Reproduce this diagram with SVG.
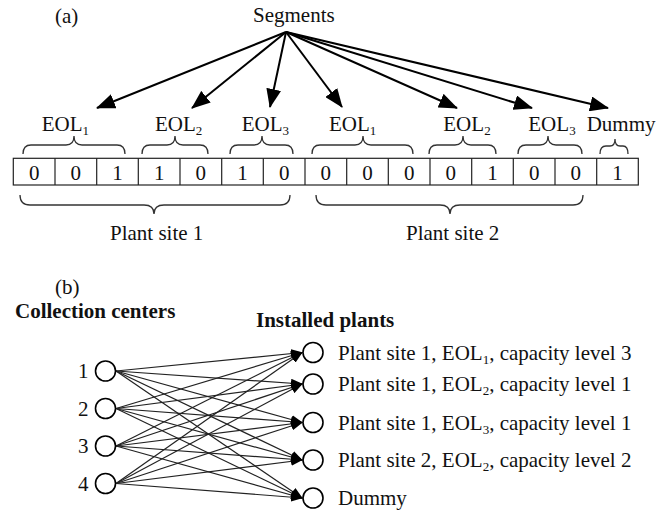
<svg xmlns="http://www.w3.org/2000/svg" width="670" height="513" viewBox="0 0 670 513">
<defs>
<marker id="bigArrow" markerUnits="userSpaceOnUse" markerWidth="19" markerHeight="15" refX="18" refY="7.5" orient="auto"><path d="M0,0 L19,7.5 L0,15 z" fill="#000"/></marker>
<marker id="smallArrow" markerUnits="userSpaceOnUse" markerWidth="12" markerHeight="9" refX="11" refY="4.5" orient="auto"><path d="M0,0 L12,4.5 L0,9 z" fill="#000"/></marker>
</defs>
<style>
text{font-family:"Liberation Serif","Times New Roman",serif;font-size:21px;fill:#111}
.b{font-weight:bold;font-size:21px}
.sub{font-size:13px}
.cell{fill:#fff;stroke:#222;stroke-width:1.2}
.brace{fill:none;stroke:#333;stroke-width:1.3}
.seg{stroke:#000;stroke-width:2;fill:none;marker-end:url(#bigArrow)}
.link{stroke:#222;stroke-width:1.2;fill:none;marker-end:url(#smallArrow)}
.node{fill:#fff;stroke:#000;stroke-width:1.6}
.mid{text-anchor:middle}
</style>

<!-- Part (a) -->
<text x="55" y="23">(a)</text>
<g id="segments"><text x="253" y="22">Segments</text></g>

<g id="connectors-a">
<line class="seg" x1="286" y1="32" x2="97" y2="108"/>
<line class="seg" x1="286" y1="32" x2="192" y2="108"/>
<line class="seg" x1="286" y1="32" x2="270" y2="107"/>
<line class="seg" x1="286" y1="32" x2="342" y2="107"/>
<line class="seg" x1="286" y1="32" x2="457" y2="108"/>
<line class="seg" x1="286" y1="32" x2="532" y2="108"/>
<line class="seg" x1="286" y1="32" x2="608" y2="108"/>
</g>

<g id="eol-labels">
<text x="41.7" y="131">EOL<tspan class="sub" dy="4">1</tspan></text>
<text x="155" y="131">EOL<tspan class="sub" dy="4">2</tspan></text>
<text x="241.7" y="131">EOL<tspan class="sub" dy="4">3</tspan></text>
<text x="329" y="131">EOL<tspan class="sub" dy="4">1</tspan></text>
<text x="443.3" y="131">EOL<tspan class="sub" dy="4">2</tspan></text>
<text x="528.3" y="131">EOL<tspan class="sub" dy="4">3</tspan></text>
<text x="586.7" y="131">Dummy</text>
</g>

<g id="top-braces">
<path class="brace" d="M23,154 Q23,145 31,145 L66,145 Q74,145 74,136 Q74,145 82,145 L117,145 Q125,145 125,154"/>
<path class="brace" d="M142,154 Q142,145 150,145 L167,145 Q175,145 175,136 Q175,145 183,145 L200,145 Q208,145 208,154"/>
<path class="brace" d="M230,154 Q230,145 238,145 L254,145 Q262,145 262,136 Q262,145 270,145 L285,145 Q293,145 293,154"/>
<path class="brace" d="M312,154 Q312,145 320,145 L355,145 Q363,145 363,136 Q363,145 371,145 L405,145 Q413,145 413,154"/>
<path class="brace" d="M429,154 Q429,145 437,145 L455,145 Q463,145 463,136 Q463,145 471,145 L488,145 Q496,145 496,154"/>
<path class="brace" d="M518,154 Q518,145 526,145 L540,145 Q548,145 548,136 Q548,145 556,145 L574,145 Q582,145 582,154"/>
<path class="brace" d="M600,154 Q600,146 606,146 L610,146 Q615,146 615,139 Q615,146 620,146 L623,146 Q628,146 628,154"/>
</g>

<g id="chromosome">
<rect class="cell" x="13.3" y="158.3" width="625" height="26.7"/>
<g stroke="#222" stroke-width="1.2">
<line x1="55" y1="158.3" x2="55" y2="185"/>
<line x1="96.7" y1="158.3" x2="96.7" y2="185"/>
<line x1="138.3" y1="158.3" x2="138.3" y2="185"/>
<line x1="180" y1="158.3" x2="180" y2="185"/>
<line x1="221.7" y1="158.3" x2="221.7" y2="185"/>
<line x1="263.3" y1="158.3" x2="263.3" y2="185"/>
<line x1="305" y1="158.3" x2="305" y2="185"/>
<line x1="346.7" y1="158.3" x2="346.7" y2="185"/>
<line x1="388.3" y1="158.3" x2="388.3" y2="185"/>
<line x1="430" y1="158.3" x2="430" y2="185"/>
<line x1="471.7" y1="158.3" x2="471.7" y2="185"/>
<line x1="513.3" y1="158.3" x2="513.3" y2="185"/>
<line x1="555" y1="158.3" x2="555" y2="185"/>
<line x1="596.7" y1="158.3" x2="596.7" y2="185"/>
</g>
<g class="digits">
<text class="mid" x="34.2" y="180">0</text>
<text class="mid" x="75.8" y="180">0</text>
<text class="mid" x="117.5" y="180">1</text>
<text class="mid" x="159.2" y="180">1</text>
<text class="mid" x="200.8" y="180">0</text>
<text class="mid" x="242.5" y="180">1</text>
<text class="mid" x="284.2" y="180">0</text>
<text class="mid" x="325.8" y="180">0</text>
<text class="mid" x="367.5" y="180">0</text>
<text class="mid" x="409.2" y="180">0</text>
<text class="mid" x="450.8" y="180">0</text>
<text class="mid" x="492.5" y="180">1</text>
<text class="mid" x="534.2" y="180">0</text>
<text class="mid" x="575.8" y="180">0</text>
<text class="mid" x="617.5" y="180">1</text>
</g>
</g>

<g id="bottom-braces">
<path class="brace" d="M20,195 Q20,205 30,205 L144,205 Q154,205 154,214 Q154,205 164,205 L280,205 Q290,205 290,195"/>
<path class="brace" d="M316,195 Q316,205 326,205 L440,205 Q450,205 450,214 Q450,205 460,205 L573,205 Q583,205 583,195"/>
</g>
<g id="plant-site-1"><text x="110" y="240">Plant site 1</text></g>
<g id="plant-site-2"><text x="406" y="240">Plant site 2</text></g>

<!-- Part (b) -->
<text x="55" y="294">(b)</text>
<text class="b" x="15" y="318">Collection centers</text>
<text class="b" x="256" y="327">Installed plants</text>

<g id="connectors-b">
<line class="link" x1="116" y1="371" x2="302" y2="352.5"/>
<line class="link" x1="116" y1="371" x2="302" y2="384"/>
<line class="link" x1="116" y1="371" x2="302" y2="422.5"/>
<line class="link" x1="116" y1="371" x2="302" y2="460"/>
<line class="link" x1="116" y1="371" x2="302" y2="498"/>
<line class="link" x1="116" y1="408.5" x2="302" y2="352.5"/>
<line class="link" x1="116" y1="408.5" x2="302" y2="384"/>
<line class="link" x1="116" y1="408.5" x2="302" y2="422.5"/>
<line class="link" x1="116" y1="408.5" x2="302" y2="460"/>
<line class="link" x1="116" y1="408.5" x2="302" y2="498"/>
<line class="link" x1="116" y1="446" x2="302" y2="352.5"/>
<line class="link" x1="116" y1="446" x2="302" y2="384"/>
<line class="link" x1="116" y1="446" x2="302" y2="422.5"/>
<line class="link" x1="116" y1="446" x2="302" y2="460"/>
<line class="link" x1="116" y1="446" x2="302" y2="498"/>
<line class="link" x1="116" y1="483.5" x2="302" y2="352.5"/>
<line class="link" x1="116" y1="483.5" x2="302" y2="384"/>
<line class="link" x1="116" y1="483.5" x2="302" y2="422.5"/>
<line class="link" x1="116" y1="483.5" x2="302" y2="460"/>
<line class="link" x1="116" y1="483.5" x2="302" y2="498"/>
</g>

<g id="cc1"><circle class="node" cx="105.5" cy="371" r="10"/><text x="78" y="378">1</text></g>
<g id="cc2"><circle class="node" cx="105.5" cy="408.5" r="10"/><text x="78" y="415.5">2</text></g>
<g id="cc3"><circle class="node" cx="105.5" cy="446" r="10"/><text x="78" y="453">3</text></g>
<g id="cc4"><circle class="node" cx="105.5" cy="483.5" r="10"/><text x="78" y="490.5">4</text></g>

<g id="ip1"><circle class="node" cx="313" cy="352.5" r="10"/><text x="338" y="359.5">Plant site 1, EOL<tspan class="sub" dy="4">1</tspan><tspan dy="-4">, capacity level 3</tspan></text></g>
<g id="ip2"><circle class="node" cx="313" cy="384" r="10"/><text x="338" y="391">Plant site 1, EOL<tspan class="sub" dy="4">2</tspan><tspan dy="-4">, capacity level 1</tspan></text></g>
<g id="ip3"><circle class="node" cx="313" cy="422.5" r="10"/><text x="338" y="429.5">Plant site 1, EOL<tspan class="sub" dy="4">3</tspan><tspan dy="-4">, capacity level 1</tspan></text></g>
<g id="ip4"><circle class="node" cx="313" cy="460" r="10"/><text x="338" y="467">Plant site 2, EOL<tspan class="sub" dy="4">2</tspan><tspan dy="-4">, capacity level 2</tspan></text></g>
<g id="ip5"><circle class="node" cx="313" cy="498" r="10"/><text x="338" y="505">Dummy</text></g>
</svg>
